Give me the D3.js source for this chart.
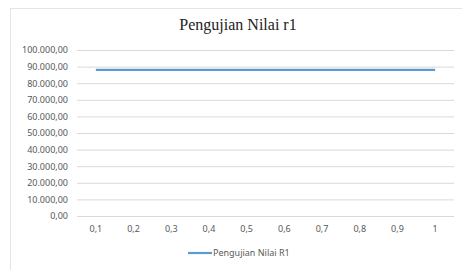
<!DOCTYPE html>
<html>
<head>
<meta charset="utf-8">
<script src="https://cdn.jsdelivr.net/npm/d3@7"></script>
<style>
  body { margin: 0; background: #fff; }
  .tick text { font-family: "Noto Sans", sans-serif; font-size: 9px; fill: #595959; }
  .title { font-family: "Liberation Serif", "DejaVu Serif", "Times New Roman", serif; font-size: 16px; fill: #222; }
</style>
</head>
<body>
<script>
// Data
var categories = ["0,1", "0,2", "0,3", "0,4", "0,5", "0,6", "0,7", "0,8", "0,9", "1"];
var r1Values = [88000, 88000, 88000, 88000, 88000, 88000, 88000, 88000, 88000, 88000];
var yTicks = [0, 10000, 20000, 30000, 40000, 50000, 60000, 70000, 80000, 90000, 100000];
var seriesName = "Pengujian Nilai R1";
var chartTitle = "Pengujian Nilai r1";

var svgWidth = 462;
var svgHeight = 270;

var margin = { top: 50, right: 8, bottom: 54, left: 77 };
var chartWidth = svgWidth - margin.left - margin.right;
var chartHeight = svgHeight - margin.top - margin.bottom;

var svg = d3.select("body")
  .append("svg")
  .attr("width", svgWidth)
  .attr("height", svgHeight);

// faint chart frame
svg.append("rect")
  .attr("x", 10.5)
  .attr("y", 8.5)
  .attr("width", 470)
  .attr("height", 300)
  .attr("fill", "none")
  .attr("stroke", "#e4e4e4");

svg.append("text")
  .attr("class", "title")
  .attr("x", 238)
  .attr("y", 30)
  .attr("text-anchor", "middle")
  .text(chartTitle);

var chartGroup = svg.append("g")
  .attr("transform", "translate(" + margin.left + ", " + margin.top + ")");

var xScale = d3.scaleBand().domain(categories).range([0, chartWidth]);
var yScale = d3.scaleLinear().domain([0, 100000]).range([chartHeight, 0]);

var fmt = function (v) {
  return d3.format(",.2f")(v).replace(/,/g, "#").replace(".", ",").replace(/#/g, ".");
};

// horizontal gridlines + y labels
var leftAxis = d3.axisLeft(yScale)
  .tickValues(yTicks)
  .tickSize(-chartWidth)
  .tickPadding(9)
  .tickFormat(fmt);

chartGroup.append("g")
  .call(leftAxis)
  .call(function (g) { g.select(".domain").remove(); })
  .call(function (g) { g.selectAll(".tick line").attr("stroke", "#d9d9d9"); });

var bottomAxis = d3.axisBottom(xScale).tickSize(0).tickPadding(10);
chartGroup.append("g")
  .attr("transform", "translate(0, " + chartHeight + ")")
  .call(bottomAxis)
  .call(function (g) { g.select(".domain").remove(); });

var drawLine = d3.line()
  .x(function (d, i) { return xScale(categories[i]) + xScale.bandwidth() / 2; })
  .y(function (d) { return yScale(d); });

chartGroup.append("path")
  .attr("d", drawLine(r1Values))
  .attr("fill", "none")
  .attr("stroke", "#5b9bd5")
  .attr("stroke-width", 2.2);

// legend
var legend = svg.append("g").attr("transform", "translate(188, 253)");
legend.append("line")
  .attr("x1", 0).attr("x2", 24)
  .attr("y1", 0).attr("y2", 0)
  .attr("stroke", "#5b9bd5")
  .attr("stroke-width", 2.2);
legend.append("text")
  .attr("x", 25)
  .attr("y", 3)
  .attr("font-family", "Noto Sans, sans-serif")
  .attr("font-size", 9)
  .attr("fill", "#595959")
  .text(seriesName);
</script>
</body>
</html>
